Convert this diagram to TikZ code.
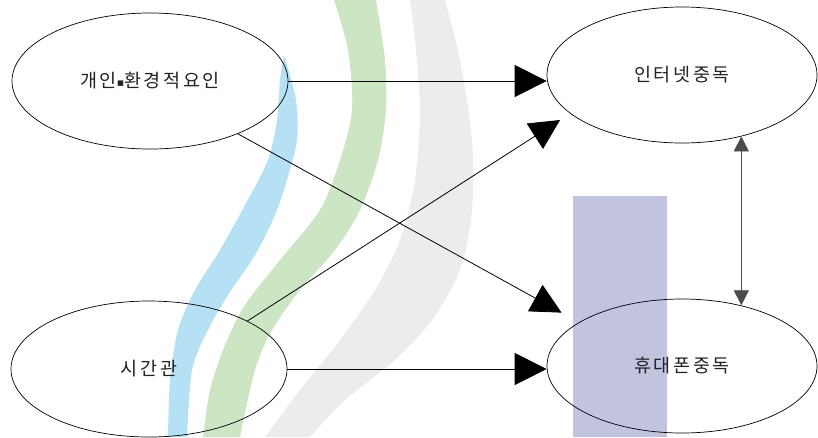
\documentclass[tikz,border=0pt]{standalone}
\usepackage{fontspec}
\newfontfamily\kr[LetterSpace=14]{Noto Sans CJK KR}
\newfontfamily\djv{DejaVu Sans}
\usetikzlibrary{shapes.geometric,arrows.meta}
\definecolor{wmblue}{HTML}{B6E1F5}
\definecolor{wmgreen}{HTML}{CCE6C4}
\definecolor{wmgray}{HTML}{EAECED}
\definecolor{wmpurple}{HTML}{C2C3DF}
\definecolor{txt}{HTML}{222222}
\begin{document}
\begin{tikzpicture}[x=1pt,y=-1pt,
  oval/.style={draw, ellipse, line width=0.7pt, inner sep=0pt,
    minimum width=276pt, minimum height=136pt, text=txt,
    font=\kr\fontsize{18.5}{20}\selectfont},
  con/.style={line width=0.8pt, -{Triangle[length=32pt,width=32pt]}},
  diag/.style={line width=0.8pt, -{Triangle[length=30pt,width=30pt]}},
  dbl/.style={line width=0.8pt, draw=black!70,
    {Triangle[length=15pt,width=15pt]}-{Triangle[length=15pt,width=15pt]}}]
\useasboundingbox (0,0) rectangle (818,437);
% watermark
\fill[wmgray] plot[smooth] coordinates {(445,0) (460,60) (472,140) (472,210) (460,270) (432,320) (395,360) (345,400) (310,437)}
  -- plot[smooth] coordinates {(265,437) (300,390) (340,340) (375,290) (400,240) (415,180) (420,110) (415,40) (410,0)} -- cycle;
\fill[wmblue] plot[smooth] coordinates {(284,55) (296,100) (297,140) (287,180) (275,215) (255,255) (228,295) (208,330) (192,370) (187,437)}
  -- plot[smooth] coordinates {(168,437) (170,380) (178,330) (195,290) (220,250) (245,205) (268,160) (277,120) (280,80) (284,55)} -- cycle;
\fill[wmgreen] plot[smooth] coordinates {(376,0) (385,60) (386,110) (378,160) (360,210) (335,250) (300,290) (272,330) (255,370) (240,437)}
  -- plot[smooth] coordinates {(203,437) (210,390) (225,345) (245,305) (280,260) (320,210) (340,160) (352,110) (348,50) (334,0)} -- cycle;
\fill[wmpurple] (573,196) rectangle (667,437);
% nodes
\node[oval] (e1) at (150,81) {개인\raisebox{1pt}{\djv\fontsize{11}{12}\selectfont ▪}환경적요인};
\node[oval, minimum width=270pt] (e2) at (682,75) {인터넷중독};
\node[oval] (e3) at (149,369) {시간관};
\node[oval, minimum width=270pt, minimum height=134pt] (e4) at (682,366) {휴대폰중독};
% connectors
\draw[con] (e1.east) -- (e1.east -| e2.west);
\draw[diag, shorten >=20pt] (e1.-31) -- (e4.157);
\draw[diag, shorten >=12pt] (e3.26) -- (e2.199);
\draw[con] (e3.east) -- (e3.east -| e4.west);
\draw[dbl] (e2.-46) -- (e2.-46 |- e4.46);
\end{tikzpicture}
\end{document}
